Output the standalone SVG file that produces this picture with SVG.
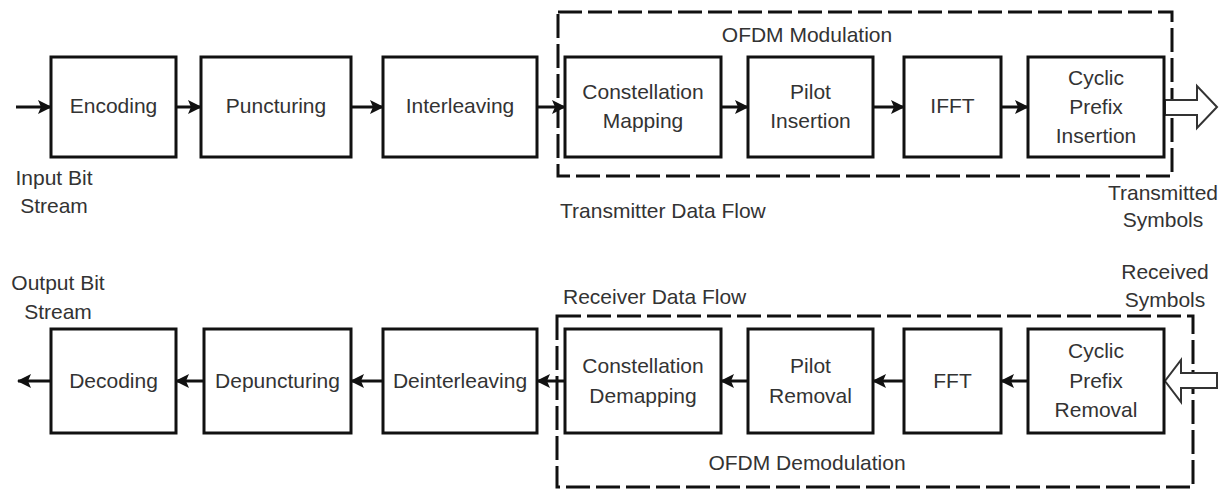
<svg xmlns="http://www.w3.org/2000/svg" width="1226" height="489" viewBox="0 0 1226 489">
<style>
.box{fill:#fff;stroke:#111;stroke-width:3}
.dash{fill:none;stroke:#111;stroke-width:3;stroke-dasharray:24 6}
.t{font-family:"Liberation Sans",Arial,sans-serif;font-size:21px;fill:#333;text-anchor:middle}
.l{font-family:"Liberation Sans",Arial,sans-serif;font-size:21px;fill:#333}
.c{stroke:#111;stroke-width:3;fill:none}
.hollow{fill:#fff;stroke:#333;stroke-width:2}
</style>
<defs>
<marker id="ah" viewBox="0 0 14 14" refX="13" refY="7" markerWidth="14" markerHeight="14" markerUnits="userSpaceOnUse" orient="auto">
<path d="M0,0 L14,7 L0,14 L3,7 Z" fill="#111"/>
</marker>
</defs>
<rect width="1226" height="489" fill="#fff"/>
<g id="groups">
<rect class="dash" x="558" y="12" width="614" height="164"/>
<rect class="dash" x="557" y="316" width="636" height="171"/>
</g>
<g id="connectors">
<line class="c" x1="16" y1="107" x2="51" y2="107" marker-end="url(#ah)"/>
<line class="c" x1="176" y1="107" x2="201" y2="107" marker-end="url(#ah)"/>
<line class="c" x1="351" y1="107" x2="383" y2="107" marker-end="url(#ah)"/>
<line class="c" x1="537" y1="107" x2="565" y2="107" marker-end="url(#ah)"/>
<line class="c" x1="721" y1="107" x2="748" y2="107" marker-end="url(#ah)"/>
<line class="c" x1="873" y1="107" x2="904" y2="107" marker-end="url(#ah)"/>
<line class="c" x1="1001" y1="107" x2="1028" y2="107" marker-end="url(#ah)"/>
<line class="c" x1="1028" y1="381" x2="1001" y2="381" marker-end="url(#ah)"/>
<line class="c" x1="904" y1="381" x2="873" y2="381" marker-end="url(#ah)"/>
<line class="c" x1="748" y1="381" x2="721" y2="381" marker-end="url(#ah)"/>
<line class="c" x1="565" y1="381" x2="537" y2="381" marker-end="url(#ah)"/>
<line class="c" x1="383" y1="381" x2="351" y2="381" marker-end="url(#ah)"/>
<line class="c" x1="204" y1="381" x2="176" y2="381" marker-end="url(#ah)"/>
<line class="c" x1="51" y1="381" x2="18" y2="381" marker-end="url(#ah)"/>
<path class="hollow" d="M1165,100 L1197,100 L1197,86 L1217,107 L1197,128 L1197,115 L1165,115 Z"/>
<path class="hollow" d="M1217,373 L1181,373 L1181,360 L1165,381 L1181,402 L1181,388 L1217,388 Z"/>
</g>
<g id="encoding"><rect class="box" x="51" y="57" width="125" height="100"/><text class="t" x="113.5" y="113">Encoding</text></g>
<g id="puncturing"><rect class="box" x="201" y="57" width="150" height="100"/><text class="t" x="276" y="113">Puncturing</text></g>
<g id="interleaving"><rect class="box" x="383" y="57" width="154" height="100"/><text class="t" x="460" y="113">Interleaving</text></g>
<g id="const-mapping"><rect class="box" x="565" y="57" width="156" height="100"/><text class="t" x="643" y="99">Constellation</text><text class="t" x="643" y="128">Mapping</text></g>
<g id="pilot-insertion"><rect class="box" x="748" y="57" width="125" height="100"/><text class="t" x="810.5" y="99">Pilot</text><text class="t" x="810.5" y="128">Insertion</text></g>
<g id="ifft"><rect class="box" x="904" y="57" width="97" height="100"/><text class="t" x="952.5" y="113">IFFT</text></g>
<g id="cp-insertion"><rect class="box" x="1028" y="57" width="136" height="100"/><text class="t" x="1096" y="85">Cyclic</text><text class="t" x="1096" y="114">Prefix</text><text class="t" x="1096" y="143">Insertion</text></g>
<g id="decoding"><rect class="box" x="51" y="329" width="125" height="104"/><text class="t" x="113.5" y="388">Decoding</text></g>
<g id="depuncturing"><rect class="box" x="204" y="329" width="147" height="104"/><text class="t" x="277.5" y="388">Depuncturing</text></g>
<g id="deinterleaving"><rect class="box" x="383" y="329" width="154" height="104"/><text class="t" x="460" y="388">Deinterleaving</text></g>
<g id="const-demapping"><rect class="box" x="565" y="329" width="156" height="104"/><text class="t" x="643" y="373">Constellation</text><text class="t" x="643" y="403">Demapping</text></g>
<g id="pilot-removal"><rect class="box" x="748" y="329" width="125" height="104"/><text class="t" x="810.5" y="373">Pilot</text><text class="t" x="810.5" y="403">Removal</text></g>
<g id="fft"><rect class="box" x="904" y="329" width="97" height="104"/><text class="t" x="952.5" y="388">FFT</text></g>
<g id="cp-removal"><rect class="box" x="1028" y="329" width="136" height="104"/><text class="t" x="1096" y="358">Cyclic</text><text class="t" x="1096" y="388">Prefix</text><text class="t" x="1096" y="417">Removal</text></g>
<g id="labels">
<text class="t" x="807" y="42">OFDM Modulation</text>
<text class="l" x="560" y="218">Transmitter Data Flow</text>
<text class="t" x="54" y="185">Input Bit</text>
<text class="t" x="54" y="213">Stream</text>
<text class="t" x="1163" y="200">Transmitted</text>
<text class="t" x="1163" y="227">Symbols</text>
<text class="t" x="58" y="290">Output Bit</text>
<text class="t" x="58" y="319">Stream</text>
<text class="l" x="563" y="304">Receiver Data Flow</text>
<text class="t" x="1165" y="279">Received</text>
<text class="t" x="1165" y="307">Symbols</text>
<text class="t" x="807" y="470">OFDM Demodulation</text>
</g>
</svg>
